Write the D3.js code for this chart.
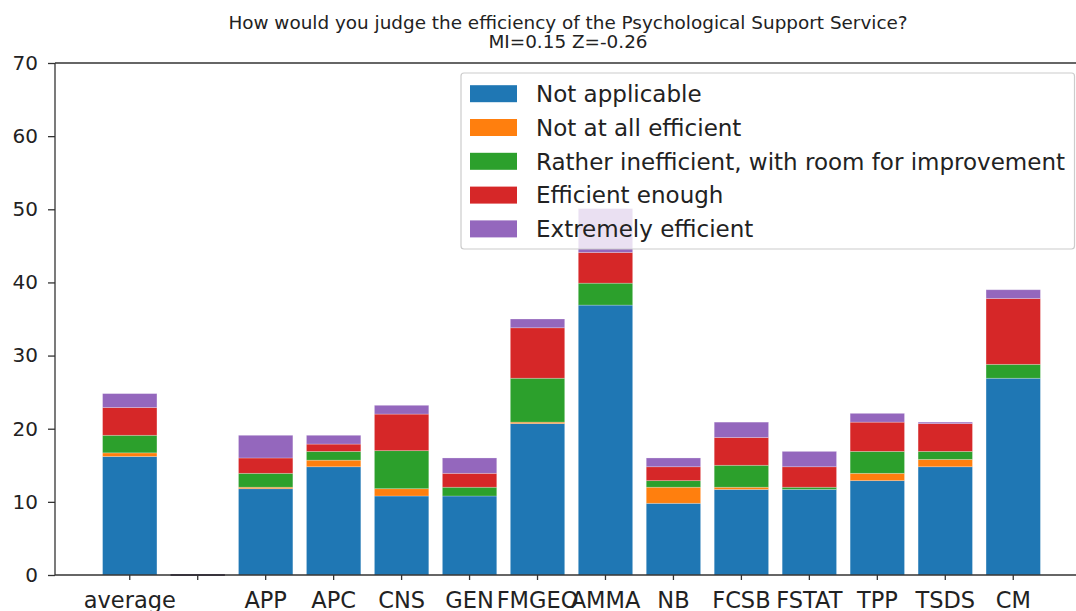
<!DOCTYPE html>
<html>
<head>
<meta charset="utf-8">
<script src="https://cdn.jsdelivr.net/npm/d3@7"></script>
<style>
  html, body { margin: 0; padding: 0; background: #fff; }
  svg { display: block; font-family: "DejaVu Sans", sans-serif; }
</style>
</head>
<body>
<svg id="chart" width="1076" height="611"></svg>
<script>
const categories = ["average", "", "APP", "APC", "CNS", "GEN", "FMGEO", "AMMA", "NB", "FCSB", "FSTAT", "TPP", "TSDS", "CM"];
const seriesNames = ["Not applicable", "Not at all efficient", "Rather inefficient, with room for improvement", "Efficient enough", "Extremely efficient"];
const notApplicable     = [16.2, 0, 11.8, 14.8, 10.8, 10.8, 20.7, 36.9, 9.8, 11.7, 11.7, 12.9, 14.8, 26.9];
const notAtAllEfficient = [0.5, 0, 0.2, 0.9, 1.0, 0, 0.2, 0, 2.2, 0.3, 0, 1.0, 1.0, 0];
const ratherInefficient = [2.4, 0, 1.9, 1.2, 5.2, 1.2, 6.0, 3.0, 0.9, 3.0, 0.3, 3.0, 1.1, 1.9];
const efficientEnough   = [3.8, 0, 2.1, 1.0, 5.0, 1.9, 6.9, 4.2, 1.9, 3.8, 2.8, 4.0, 3.8, 9.0];
const extremelyEfficient= [1.9, 0, 3.1, 1.2, 1.2, 2.1, 1.2, 6.0, 1.2, 2.1, 2.1, 1.2, 0.2, 1.2];
const colors = ["#1f77b4", "#ff7f0e", "#2ca02c", "#d62728", "#9467bd"];
const yTicks = [0, 10, 20, 30, 40, 50, 60, 70];
const titleLines = ["How would you judge the efficiency of the Psychological Support Service?", "MI=0.15 Z=-0.26"];

const seriesValues = [notApplicable, notAtAllEfficient, ratherInefficient, efficientEnough, extremelyEfficient];
const table = categories.map((c, i) => {
  const row = { key: i, cat: c };
  seriesNames.forEach((s, j) => row[s] = seriesValues[j][i]);
  return row;
});
const stacked = d3.stack().keys(seriesNames)(table);

const svg = d3.select("#chart");
const pLeft = 55, pRight = 1088, pTop = 63, pBottom = 575;

const x = d3.scaleBand().domain(d3.range(categories.length)).range([pLeft, pRight])
  .paddingInner(0.2).paddingOuter(0.7);
const y = d3.scaleLinear().domain([0, 70]).range([pBottom, pTop]);

// bars
const g = svg.append("g");
stacked.forEach((layer, j) => {
  g.selectAll(null).data(layer.filter(d => d[1] - d[0] > 0)).enter().append("rect")
    .attr("x", d => x(d.data.key))
    .attr("width", x.bandwidth())
    .attr("y", d => y(d[1]))
    .attr("height", d => y(d[0]) - y(d[1]))
    .attr("fill", colors[j])
    .attr("stroke", "#ffffff")
    .attr("stroke-opacity", 0.3)
    .attr("stroke-width", 0.8);
});
// zero-height bars (empty category) show as a darker edge on the baseline
const totals = table.map(r => d3.sum(seriesNames, s => r[s]));
g.selectAll(null).data(table.filter((r, i) => totals[i] === 0)).enter().append("line")
  .attr("x1", d => x(d.key)).attr("x2", d => x(d.key) + x.bandwidth())
  .attr("y1", y(0)).attr("y2", y(0))
  .attr("stroke", "#4a3a5a").attr("stroke-width", 2.2);

// axes
const xAxis = d3.axisBottom(x).tickSize(5).tickPadding(12).tickFormat(i => categories[i]);
const gx = svg.append("g").attr("transform", `translate(0,${pBottom})`).call(xAxis);
gx.select(".domain").remove();
gx.selectAll(".tick line").attr("stroke", "#333").attr("stroke-width", 1.3);
gx.selectAll(".tick text").attr("font-size", 22.5).attr("fill", "#222")
  .attr("font-family", "DejaVu Sans");

const yAxis = d3.axisLeft(y).tickValues(yTicks).tickSize(7).tickPadding(10);
const gy = svg.append("g").attr("transform", `translate(${pLeft},0)`).call(yAxis);
gy.select(".domain").remove();
gy.selectAll(".tick line").attr("stroke", "#333").attr("stroke-width", 1.3);
gy.selectAll(".tick text").attr("font-size", 20).attr("fill", "#222").attr("font-family", "DejaVu Sans");

// spines
const sp = svg.append("g").attr("stroke", "#333").attr("stroke-width", 1.3).attr("fill", "none");
sp.append("line").attr("x1", pLeft).attr("x2", pLeft).attr("y1", pTop).attr("y2", pBottom);
sp.append("line").attr("x1", pLeft).attr("x2", pRight).attr("y1", pTop).attr("y2", pTop);
sp.append("line").attr("x1", pLeft).attr("x2", pRight).attr("y1", pBottom).attr("y2", pBottom);
sp.append("line").attr("x1", pRight).attr("x2", pRight).attr("y1", pTop).attr("y2", pBottom);

// title
const cx = 568;
svg.append("text").attr("x", cx).attr("y", 29).attr("text-anchor", "middle")
  .attr("font-size", 18.4).attr("fill", "#222").text(titleLines[0]);
svg.append("text").attr("x", cx).attr("y", 48).attr("text-anchor", "middle")
  .attr("font-size", 18.4).attr("fill", "#222").text(titleLines[1]);

// legend
const lg = svg.append("g");
lg.append("rect").attr("x", 461).attr("y", 73).attr("width", 613.5).attr("height", 176)
  .attr("rx", 3).attr("fill", "#fff").attr("fill-opacity", 0.8)
  .attr("stroke", "#cccccc").attr("stroke-width", 1.2);
seriesNames.forEach((s, j) => {
  const cy = 93.7 + j * 33.8;
  lg.append("rect").attr("x", 470).attr("y", cy - 8.5).attr("width", 47).attr("height", 17)
    .attr("fill", colors[j]);
  lg.append("text").attr("x", 536).attr("y", cy).attr("dy", "0.36em")
    .attr("font-size", 23).attr("fill", "#222").text(s);
});
</script>
</body>
</html>
